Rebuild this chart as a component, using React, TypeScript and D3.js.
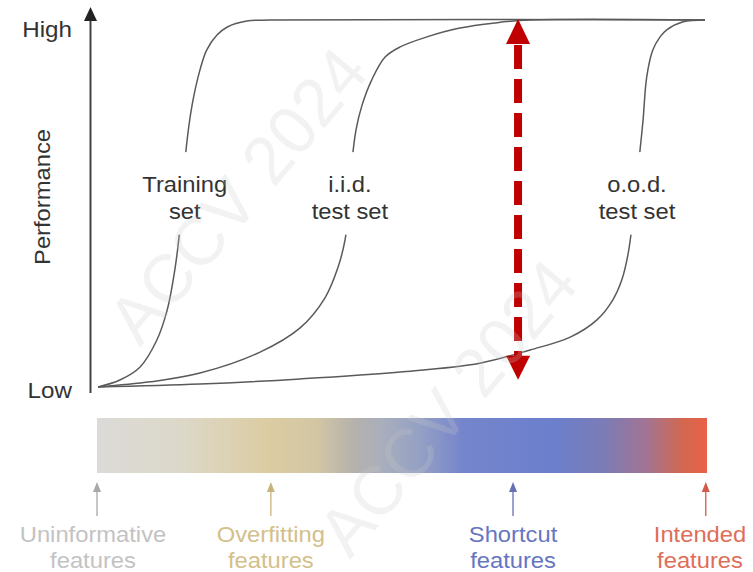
import React from "react";
import * as d3 from "d3";

// ---- data (x: training progress 0..100, y: performance 0..100) ----
const trainingX = [0, 3.6, 6.9, 9.7, 11.4, 12.7, 13.5, 14.0, 14.5, 15.5, 16.8, 17.9, 19.6, 21.3, 24.5, 28.3, 100];
const trainingY = [0, 1.9, 5.4, 12.8, 21.0, 32.4, 43.3, 53.7, 64.6, 76.8, 86.4, 91.8, 95.9, 98.1, 99.7, 100, 100];

const iidX = [0, 8.6, 16.8, 26.7, 33.3, 37.4, 39.5, 40.7, 41.5, 41.8, 42.5, 43.5, 45.1, 47.3, 49.7, 54.2, 59.6, 65.4, 71.2, 100];
const iidY = [0, 1.4, 3.8, 9.5, 16.1, 24.3, 32.4, 40.1, 51.0, 60.5, 70.0, 76.8, 83.7, 89.9, 92.6, 95.4, 97.8, 99.2, 100, 100];

const oodX = [0, 16.8, 33.3, 49.8, 62.9, 71.2, 77.8, 82.2, 84.8, 86.3, 87.3, 88.0, 88.6, 89.3, 89.8, 90.4, 91.4, 92.6, 93.7, 96.4, 100];
const oodY = [0, 0.8, 2.2, 4.1, 6.5, 10.1, 13.6, 18.3, 23.7, 29.2, 36.0, 44.1, 53.7, 64.6, 72.8, 84.5, 91.8, 95.4, 97.3, 99.5, 100];

const curveLabels = [
  { lines: ["Training", "set"], x: 14.3 },
  { lines: ["i.i.d.", "test set"], x: 41.5 },
  { lines: ["o.o.d.", "test set"], x: 88.8 },
];
const labelGap = [41.5, 64.0]; // performance range hidden behind the curve labels

const gapX = 69.2; // position of the generalisation-gap arrow
const yTickLabels = ["Low", "High"];
const yTitle = "Performance";

const featureNames = ["Uninformative", "Overfitting", "Shortcut", "Intended"];
const featurePos = [0, 28.5, 68.2, 99.8];
const featureColors = ["#c3c3c3", "#d3c08a", "#6675c2", "#df6d58"];
const arrowColors = ["#a8a8a8", "#c8b47e", "#6670b4", "#d25a48"];

const gradStops = [
  { o: 0, c: "#dcdad8" },
  { o: 0.14, c: "#dcd8c8" },
  { o: 0.28, c: "#dccca2" },
  { o: 0.36, c: "#d2c6a4" },
  { o: 0.42, c: "#b6b2ac" },
  { o: 0.47, c: "#a8aebc" },
  { o: 0.53, c: "#94a0c4" },
  { o: 0.6, c: "#7585cc" },
  { o: 0.75, c: "#6b7fcc" },
  { o: 0.83, c: "#7b7cb6" },
  { o: 0.9, c: "#a27494" },
  { o: 0.96, c: "#d2684f" },
  { o: 1, c: "#ea6049" },
];

const watermarks = [
  { x: 140, y: 348 },
  { x: 350, y: 560 },
];

const FONT = "'Liberation Sans', Arial, Helvetica, sans-serif";

export default function App() {
  const W = 753;
  const H = 572;
  const x = d3.scaleLinear().domain([0, 100]).range([98, 705]);
  const y = d3.scaleLinear().domain([0, 100]).range([387, 20]);
  const bx = d3.scaleLinear().domain([0, 100]).range([97, 707]);

  const lineX = d3
    .line<[number, number]>()
    .x((d) => x(d[0]))
    .y((d) => y(d[1]))
    .curve(d3.curveCatmullRom.alpha(0.5));

  const zip = (a: number[], b: number[]) => a.map((v, i) => [v, b[i]] as [number, number]);
  const series = [zip(trainingX, trainingY), zip(iidX, iidY), zip(oodX, oodY)];

  const axisX = 90.5;
  const fs = 22;

  const gx = x(gapX);
  const gTop = y(100) - 1;
  const gBot = y(2.0);

  return (
    <svg width={W} height={H} style={{ position: "absolute", left: 0, top: 0, background: "#fff" }}>
      <defs>
        <linearGradient id="featGrad" x1="0" x2="1" y1="0" y2="0">
          {gradStops.map((s, i) => (
            <stop key={i} offset={s.o} stopColor={s.c} />
          ))}
        </linearGradient>
      </defs>
      <rect width={W} height={H} fill="#fff" />

      {/* curves */}
      {series.map((s, i) => (
        <path key={i} d={lineX(s) || ""} fill="none" stroke="#5a5a5a" strokeWidth={1.5} />
      ))}

      {/* label knock-outs and labels */}
      {curveLabels.map((l, i) => (
        <g key={i}>
          <rect
            x={x(l.x) - 48}
            y={y(labelGap[1])}
            width={96}
            height={y(labelGap[0]) - y(labelGap[1])}
            fill="#fff"
          />
          {l.lines.map((t, j) => (
            <text
              key={j}
              x={x(l.x)}
              y={192 + j * 27}
              textAnchor="middle"
              fontFamily={FONT}
              fontSize={fs}
              fill="#333"
              transform={`translate(${x(l.x)},0) scale(1.08,1) translate(${-x(l.x)},0)`}
            >
              {t}
            </text>
          ))}
        </g>
      ))}

      {/* y axis */}
      <line x1={axisX} x2={axisX} y1={393} y2={18} stroke="#444" strokeWidth={2} />
      <path d={`M${axisX},7 L${axisX - 6.5},21 L${axisX + 6.5},21 Z`} fill="#222" />
      <text x={72} y={398} textAnchor="end" fontFamily={FONT} fontSize={fs} fill="#333"
        transform="translate(72,0) scale(1.1,1) translate(-72,0)">
        {yTickLabels[0]}
      </text>
      <text x={72} y={37} textAnchor="end" fontFamily={FONT} fontSize={fs} fill="#333"
        transform="translate(72,0) scale(1.1,1) translate(-72,0)">
        {yTickLabels[1]}
      </text>
      <text
        transform="translate(50,197) rotate(-90) scale(1.08,1)"
        textAnchor="middle"
        fontFamily={FONT}
        fontSize={fs}
        fill="#333"
      >
        {yTitle}
      </text>

      {/* generalisation gap arrow */}
      <line x1={gx} x2={gx} y1={gTop + 26} y2={gBot - 22} stroke="#c00000" strokeWidth={8}
        strokeDasharray="24,10" />
      <path d={`M${gx},${gTop} L${gx - 12},${gTop + 25} L${gx + 12},${gTop + 25} Z`} fill="#c00000" />
      <path d={`M${gx},${gBot} L${gx - 12},${gBot - 24} L${gx + 12},${gBot - 24} Z`} fill="#c00000" />

      {/* feature gradient bar */}
      <rect x={bx(0)} y={418} width={bx(100) - bx(0)} height={55} fill="url(#featGrad)" />

      {featureNames.map((n, i) => {
        const px = bx(featurePos[i]);
        const tx = i === 0 ? 93 : i === 3 ? 700 : px;
        return (
          <g key={n}>
            <line x1={px} x2={px} y1={490} y2={516} stroke={arrowColors[i]} strokeWidth={1.3} />
            <path d={`M${px},482 L${px - 4},492 L${px + 4},492 Z`} fill={arrowColors[i]} />
            <g transform={`translate(${tx},0) scale(1.08,1)`}>
              <text x={0} y={542} textAnchor="middle" fontFamily={FONT} fontSize={fs} fill={featureColors[i]}>
                {n}
              </text>
              <text x={0} y={568} textAnchor="middle" fontFamily={FONT} fontSize={fs} fill={featureColors[i]}>
                features
              </text>
            </g>
          </g>
        );
      })}

      {/* watermark */}
      {watermarks.map((w, i) => (
        <text
          key={i}
          transform={`translate(${w.x},${w.y}) rotate(-50)`}
          fontFamily={FONT}
          fontSize={68}
          fill="rgb(200,200,200)"
          fillOpacity={0.24}
        >
          ACCV 2024
        </text>
      ))}
    </svg>
  );
}
